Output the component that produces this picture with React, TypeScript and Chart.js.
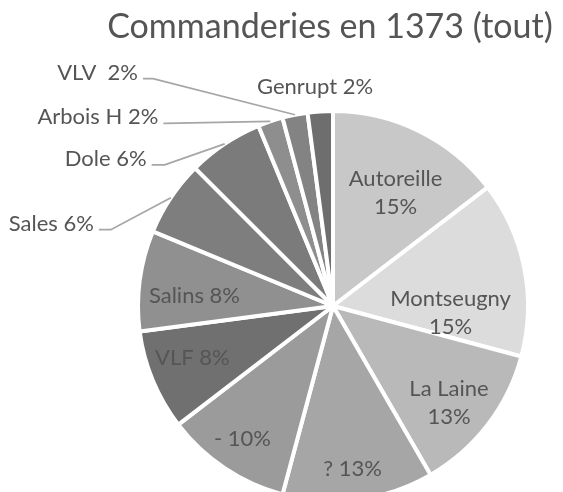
import React, { useEffect, useRef } from "react";
import { Chart, registerables } from "chart.js";

Chart.register(...registerables);

// ---- data ----
const TITLE = "Commanderies en 1373 (tout)";
const categories = [
  "Autoreille",
  "Montseugny",
  "La Laine",
  "?",
  "-",
  "VLF",
  "Salins",
  "Sales",
  "Dole",
  "Arbois H",
  "VLV ",
  "Genrupt",
];
const counts = [7, 7, 6, 6, 5, 4, 4, 3, 3, 1, 1, 1];
const sliceColors = [
  "#c8c8c8",
  "#dcdcdc",
  "#b9b9b9",
  "#a6a6a6",
  "#9b9b9b",
  "#707070",
  "#909090",
  "#7e7e7e",
  "#7b7b7b",
  "#8e8e8e",
  "#838383",
  "#6e6e6e",
];

// ---- layout / styling (not data) ----
const W = 563;
const H = 492;
const BORDER = 4;
const RADIUS = 195;
const FONT = "Lato, 'Open Sans', sans-serif";
const LABEL_SIZE = 22;
const TITLE_SIZE = 34;
const TEXT_COLOR = "#555555";
const LEADER_COLOR = "#a6a6a6";

type Placement =
  | { kind: "in"; frac: number; da: number; split: boolean }
  | { kind: "out"; elbow: [number, number]; run: number }
  | { kind: "free"; frac: number; da: number };

const placements: Placement[] = [
  { kind: "in", frac: 0.674, da: 2.5, split: true },
  { kind: "in", frac: 0.61, da: 14.2, split: true },
  { kind: "in", frac: 0.78, da: 2.1, split: true },
  { kind: "in", frac: 0.845, da: 0.6, split: false },
  { kind: "in", frac: 0.83, da: 0.65, split: false },
  { kind: "in", frac: 0.775, da: 2.55, split: false },
  { kind: "in", frac: 0.72, da: -3, split: false },
  { kind: "out", elbow: [-60, 32], run: 12 },
  { kind: "out", elbow: [-60, 21], run: 13 },
  { kind: "out", elbow: [-105, 2], run: 2 },
  { kind: "out", elbow: [-142, -36], run: 10 },
  { kind: "free", frac: 1.143, da: -0.9 },
];

const DEG = Math.PI / 180;

const labelPlugin = {
  id: "pieLabels",
  afterDatasetsDraw(chart: any) {
    const ctx: CanvasRenderingContext2D = chart.ctx;
    const meta = chart.getDatasetMeta(0);
    const total = counts.reduce((a, b) => a + b, 0);
    ctx.save();
    ctx.fillStyle = TEXT_COLOR;
    ctx.font = `${LABEL_SIZE}px ${FONT}`;
    const capHalf = LABEL_SIZE * 0.36;
    meta.data.forEach((arc: any, i: number) => {
      const p = arc.getProps(["x", "y", "startAngle", "endAngle", "outerRadius"], true);
      const R = p.outerRadius - BORDER / 2;
      const mid = (p.startAngle + p.endAngle) / 2;
      const pct = Math.round((counts[i] / total) * 100) + "%";
      const pl = placements[i];
      if (pl.kind === "in" || pl.kind === "free") {
        const a = mid + pl.da * DEG;
        const cx = p.x + Math.cos(a) * R * pl.frac;
        const cy = p.y + Math.sin(a) * R * pl.frac;
        ctx.textAlign = "center";
        ctx.textBaseline = "alphabetic";
        if (pl.kind === "in" && pl.split) {
          ctx.fillText(categories[i], cx, cy - 14 + capHalf);
          ctx.fillText(pct, cx, cy + 14 + capHalf);
        } else {
          ctx.fillText(`${categories[i]} ${pct}`, cx, cy + capHalf);
        }
      } else {
        const ex = p.x + Math.cos(mid) * (R + 2);
        const ey = p.y + Math.sin(mid) * (R + 2);
        const bx = ex + pl.elbow[0];
        const by = ey + pl.elbow[1];
        const lx = bx - pl.run;
        ctx.beginPath();
        ctx.strokeStyle = LEADER_COLOR;
        ctx.lineWidth = 1.75;
        ctx.moveTo(ex, ey);
        ctx.lineTo(bx, by);
        ctx.lineTo(lx, by);
        ctx.stroke();
        ctx.textAlign = "right";
        ctx.textBaseline = "alphabetic";
        ctx.fillText(`${categories[i]} ${pct}`, lx - 5, by + 1);
      }
    });
    // title
    ctx.font = `${TITLE_SIZE}px ${FONT}`;
    ctx.textAlign = "center";
    ctx.textBaseline = "alphabetic";
    ctx.fillText(TITLE, 330, 38);
    ctx.restore();
  },
};

export default function App() {
  const ref = useRef<HTMLCanvasElement | null>(null);
  useEffect(() => {
    if (!ref.current) return;
    const chart = new Chart(ref.current, {
      type: "pie",
      data: {
        labels: categories,
        datasets: [
          {
            data: counts,
            backgroundColor: sliceColors,
            borderColor: "#ffffff",
            borderWidth: BORDER,
            clip: false as any,
          },
        ],
      },
      options: {
        animation: false,
        responsive: false,
        devicePixelRatio: 1,
        radius: RADIUS,
        layout: { padding: { left: 103, right: 0, top: 120, bottom: 0 } },
        plugins: {
          legend: { display: false },
          title: { display: false },
          tooltip: { enabled: false },
        },
      } as any,
      plugins: [labelPlugin],
    });
    return () => chart.destroy();
  }, []);
  return (
    <div
      style={{
        position: "fixed",
        left: 0,
        top: 0,
        width: W,
        height: H,
        background: "#ffffff",
        overflow: "hidden",
      }}
    >
      <canvas ref={ref} width={W} height={H} style={{ display: "block" }} />
    </div>
  );
}
